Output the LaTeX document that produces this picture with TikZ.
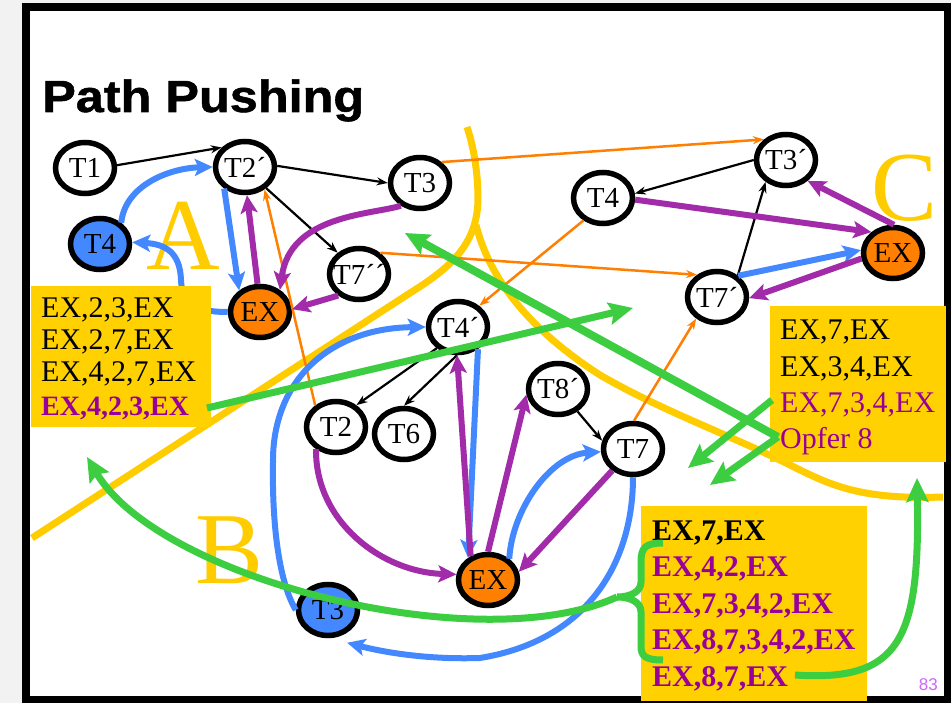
\documentclass[tikz,border=0pt]{standalone}
\usepackage{fontspec}
\setmainfont{Liberation Serif}
\newfontfamily\titlefont{Liberation Sans}[FakeStretch=1.12,BoldFeatures={FakeBold=1.2}]
\newfontfamily\pagefont{Liberation Sans}
\usetikzlibrary{shapes.geometric,arrows.meta}
\definecolor{yel}{HTML}{FFD100}
\definecolor{yline}{HTML}{FFCC00}
\definecolor{pur}{HTML}{A22BAA}
\definecolor{purt}{HTML}{990099}
\definecolor{blu}{HTML}{4488FF}
\definecolor{ora}{HTML}{FF7F00}
\definecolor{grn}{HTML}{3CCD41}
\definecolor{pnum}{HTML}{CC66FF}
\definecolor{bgg}{HTML}{F2F2F2}
\newcommand\ntext[1]{\makebox[0pt]{#1}}
\begin{document}
\begin{tikzpicture}[x=1pt,y=-1pt,
  tn/.style={ellipse, draw, line width=5.5pt, fill=white, minimum width=59pt,
    minimum height=51pt, inner sep=0pt, font=\fontsize{29}{30}\selectfont},
  bn/.style={tn, fill=blu},
  on/.style={tn, fill=ora},
  blk/.style={line width=2.2pt, -{Stealth[length=11pt,width=8pt]}},
  orl/.style={ora, line width=2.5pt, -{Stealth[length=11pt,width=8pt]}},
  thk/.style={line width=6pt, -{Stealth[length=18pt,width=17pt,inset=4pt]}},
  bl/.style={thk, blu},
  pu/.style={thk, pur},
  gr/.style={grn, line width=7pt, -{Stealth[length=24pt,width=22pt,inset=4pt]}},
  ylw/.style={yline, line width=7pt},
  boxx/.style={fill=yel, inner sep=0pt, anchor=north west},
  txt/.style={anchor=base west, inner sep=0pt, font=\fontsize{30}{32}\selectfont},
  txb/.style={txt, font=\fontsize{30}{32}\selectfont\bfseries},
  big/.style={anchor=base west, inner sep=0pt, text=yline, font=\fontsize{102}{102}\selectfont}
]
\useasboundingbox (0,0) rectangle (951,703);
\fill[bgg] (0,0) rectangle (951,703);
\fill[white] (26,7) rectangle (948,700);
\draw[line width=8pt] (26,7) rectangle (948,700);

% big letters
\node[big] (LA) at (146,270) {A};
\node[big] (LB) at (195,583) {B};
\node[big, font=\fontsize{99}{100}\selectfont] (LC) at (871,221) {C};

% yellow boundaries
\draw[ylw] (32,538) -- (410,293) .. controls (450,268) and (477,245) .. (478,200)
  .. controls (478,170) and (473,145) .. (467,127);
\draw[ylw] (476,225) .. controls (490,280) and (530,330) .. (600,375)
  .. controls (660,410) and (730,435) .. (790,465)
  .. controls (830,485) and (860,500) .. (943,497);

% nodes
\node[tn] (T1) at (85,168) {\ntext{T1}};
\node[tn] (T2p) at (245,167) {\ntext{T2´}};
\node[tn] (T3) at (420,183) {\ntext{T3}};
\node[bn] (T4B) at (100,244) {\ntext{T4}};
\node[on] (EXA) at (260,312) {\ntext{EX}};
\node[tn] (T7pp) at (359,274) {\ntext{T7´´}};
\node[tn] (T4p) at (458,327) {\ntext{T4´}};
\node[tn] (T2) at (336,427) {\ntext{T2}};
\node[tn] (T6) at (404,434) {\ntext{T6}};
\node[tn] (T8p) at (558,389) {\ntext{T8´}};
\node[tn] (T7) at (633,449) {\ntext{T7}};
\node[on] (EXB) at (488,580) {\ntext{EX}};
\node[bn] (T3B) at (328,610) {\ntext{T3}};
\node[tn] (T3p) at (786,160) {\ntext{T3´}};
\node[tn] (T4R) at (603,198) {\ntext{T4}};
\node[on] (EXR) at (893,253) {\ntext{EX}};
\node[tn] (T7p) at (717,297) {\ntext{T7´}};

% black arrows
\draw[blk] (T1.5) -- (T2p.140);
\draw[blk] (T2p.2) -- (T3.180);
\draw[blk] (T2p.-45) -- (T7pp.135);
\draw[blk] (T3p.180) -- (T4R.8);
\draw[blk] (T7p.46) -- (T3p.-133);
\draw[blk] (T4p.-135) -- (T2.47);
\draw[blk] (T4p.-92) -- (T6.90);
\draw[blk] (T8p.-49) -- (T7.165);

% orange arrows
\draw[orl] (T3.44) -- (T3p.137);
\draw[orl] (T7pp.45) -- (T7p.132);
\draw[orl] (T4R.-131) -- (T4p.45);
\draw[orl] (T2.134) -- (T2p.-49);
\draw[orl] (T7.88) -- (T7p.-134);

% blue arrows
\draw[bl] (T4B.45) .. controls (125,185) and (170,168) .. (T2p.180);
\draw[bl] (T2p.-134) -- (EXA.134);
\draw[bl] (EXA.180) .. controls (192,312) and (182,302) .. (181,280)
  .. controls (180,252) and (165,244) .. (T4B.3);
\draw[bl] (T4p.-48) -- (EXB.132);
\draw[bl] (T3B.180) .. controls (278,580) and (272,520) .. (273,463)
  .. controls (272,380) and (330,328) .. (T4p.180);
\draw[bl] (EXB.45) .. controls (512,510) and (550,455) .. (T7.185);
\draw[bl] (T7.-90) .. controls (633,560) and (590,640) .. (480,658)
  .. controls (420,660) and (375,650) .. ([yshift=-10pt]T3B.-50);
\draw[bl] (T7p.45) -- (EXR.175);

% purple arrows
\draw[pu] (EXA.95) -- (T2p.-86);
\draw[pu] (T3.230) .. controls (370,215) and (290,215) .. (EXA.48);
\draw[pu] (T7pp.226) -- (EXA.5);
\draw[pu] (EXB.126) -- (T4p.-92);
\draw[pu] (EXB.90) -- (T8p.190);
\draw[pu] (T2.228) .. controls (315,520) and (380,572) .. (EXB.170);
\draw[pu] (T7.226) -- (EXB.15);
\draw[pu] (T4R.-3) -- (EXR.136);
\draw[pu] (EXR.88) -- (T3p.-44);
\draw[pu] (EXR.190) -- (T7p.-2);

% boxes
\node[boxx, minimum width=180pt, minimum height=141pt] (boxA) at (31,286) {};
\node[boxx, minimum width=176pt, minimum height=156pt] (boxC) at (770,306) {};
\node[boxx, minimum width=226pt, minimum height=195pt] (boxB) at (641,506) {};

\node[txt] (a1) at (41,318) {EX,2,3,EX};
\node[txt] (a2) at (41,350) {EX,2,7,EX};
\node[txt] (a3) at (41,382) {EX,4,2,7,EX};
\node[txt, font=\fontsize{28}{30}\selectfont\bfseries, text=purt] (a4) at (41,415) {EX,4,2,3,EX};

\node[txt] (c1) at (780,340) {EX,7,EX};
\node[txt] (c2) at (780,377) {EX,3,4,EX};
\node[txt, text=purt] (c3) at (780,413) {EX,7,3,4,EX};
\node[txt, text=purt] (c4) at (780,448) {Opfer 8};

\node[txb] (b1) at (652,540) {EX,7,EX};
\node[txb, text=purt] (b2) at (652,576) {EX,4,2,EX};
\node[txb, text=purt] (b3) at (652,613) {EX,7,3,4,2,EX};
\node[txb, text=purt] (b4) at (652,649) {EX,8,7,3,4,2,EX};
\node[txb, text=purt] (b5) at (652,686) {EX,8,7,EX};

% green arrows
\coordinate (gA1) at (207,408);
\coordinate (gA2) at (633,308);
\draw[gr] (gA1) -- (gA2);
\coordinate (gO) at (778,437);
\coordinate (gD) at (405,233);
\draw[gr, line width=8pt] (gO) -- (gD);
\coordinate (gC1) at (772,400);
\coordinate (gC1e) at (688,468);
\draw[gr] (gC1) -- (gC1e);
\coordinate (gC2e) at (710,485);
\draw[gr] (gO) -- (gC2e);
\draw[grn, line width=7pt] (663,543) .. controls (645,543) and (641,548) .. (641,562)
  -- (641,582) .. controls (641,592) and (630,597) .. (617,597)
  .. controls (630,597) and (641,602) .. (641,612)
  -- (641,646) .. controls (641,656) and (645,660) .. (663,660);
\coordinate (brM) at (617,597);
\coordinate (gL) at (87,457);
\draw[gr] (brM) .. controls (480,660) and (160,580) .. (gL);
\coordinate (gB5) at (795,675);
\coordinate (gR) at (917,478);
\draw[gr] (gB5) .. controls (900,682) and (920,640) .. (gR);

% title and page number
\node[anchor=base west, inner sep=0pt, font=\titlefont\fontsize{45}{50}\selectfont\bfseries] (title) at (42,112) {Path Pushing};
\node[anchor=base east, inner sep=0pt, text=pnum, font=\pagefont\fontsize{17}{20}\selectfont] (pg) at (938,690) {83};
\end{tikzpicture}
\end{document}
